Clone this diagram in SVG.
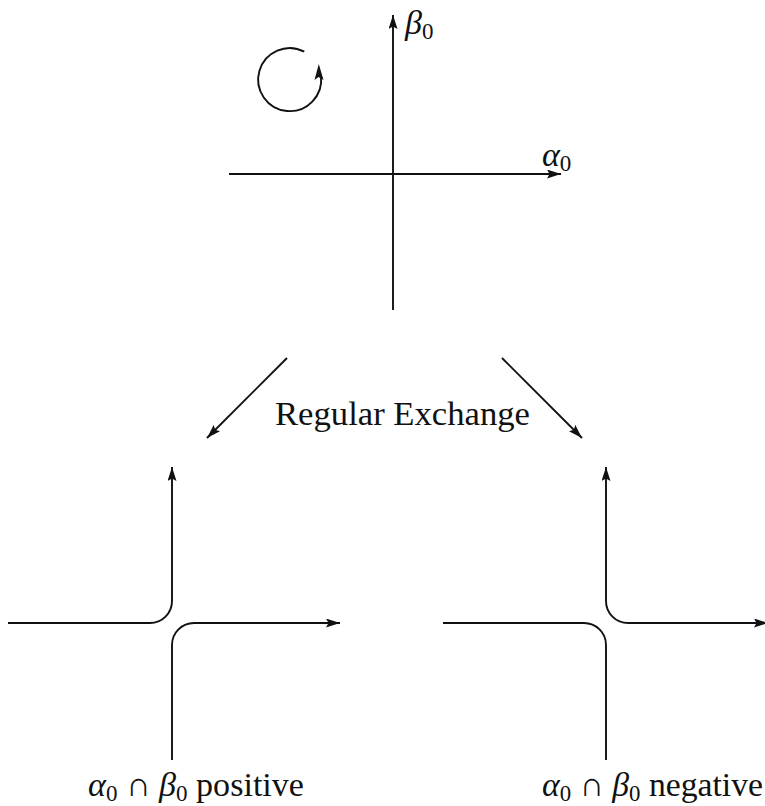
<svg xmlns="http://www.w3.org/2000/svg" width="765" height="806" viewBox="0 0 765 806">
<style>
.ln{fill:none;stroke:#111;stroke-width:1.9}
.t{font-family:"Liberation Serif","DejaVu Serif",serif;font-size:34px;fill:#111}
.m{font-style:italic}
.s{font-size:23px;font-style:normal}
</style>
<defs>
<marker id="ah" markerUnits="userSpaceOnUse" markerWidth="15" markerHeight="10" refX="14" refY="4.5" orient="auto-start-reverse">
<path d="M0,0 L14,4.5 L0,9 L2.5,4.5 z" fill="#111"/>
</marker>
</defs>
<g id="top-axes">
<line class="ln" x1="393" y1="310" x2="393" y2="15" marker-end="url(#ah)"/>
<line class="ln" x1="229" y1="174" x2="561" y2="174" marker-end="url(#ah)"/>
<path class="ln" d="M304.3,51.7 A31.5,31.5 0 1 0 321,76"/>
<path d="M318.8,64 L323.5,80 L318.5,77 L314.5,80 z" fill="#111"/>
<text class="t" x="405" y="34"><tspan class="m">β</tspan><tspan class="s" dy="5">0</tspan></text>
<text class="t" x="542" y="166"><tspan class="m">α</tspan><tspan class="s" dy="5">0</tspan></text>
</g>
<g id="connectors">
<line class="ln" x1="287" y1="358" x2="207" y2="438" marker-end="url(#ah)"/>
<line class="ln" x1="502" y1="358" x2="582" y2="438" marker-end="url(#ah)"/>
<text class="t" x="275" y="425" textLength="255" lengthAdjust="spacingAndGlyphs">Regular Exchange</text>
</g>
<g id="positive">
<path class="ln" d="M8,623 H150 A22,22 0 0 0 172,601 V467" marker-end="url(#ah)"/>
<path class="ln" d="M172,760 V645 A22,22 0 0 1 194,623 H340" marker-end="url(#ah)"/>
<text class="t" x="88" y="796" textLength="216" lengthAdjust="spacingAndGlyphs"><tspan class="m">α</tspan><tspan class="s" dy="5">0</tspan><tspan dy="-5"> ∩ </tspan><tspan class="m">β</tspan><tspan class="s" dy="5">0</tspan><tspan dy="-5"> positive</tspan></text>
</g>
<g id="negative">
<path class="ln" d="M443,623 H584 A22,22 0 0 1 606,645 V760"/>
<path class="ln" d="M606,467 V601 A22,22 0 0 0 628,623 H768" marker-start="url(#ah)" marker-end="url(#ah)"/>
<text class="t" x="542" y="796" textLength="221" lengthAdjust="spacingAndGlyphs"><tspan class="m">α</tspan><tspan class="s" dy="5">0</tspan><tspan dy="-5"> ∩ </tspan><tspan class="m">β</tspan><tspan class="s" dy="5">0</tspan><tspan dy="-5"> negative</tspan></text>
</g>
</svg>
